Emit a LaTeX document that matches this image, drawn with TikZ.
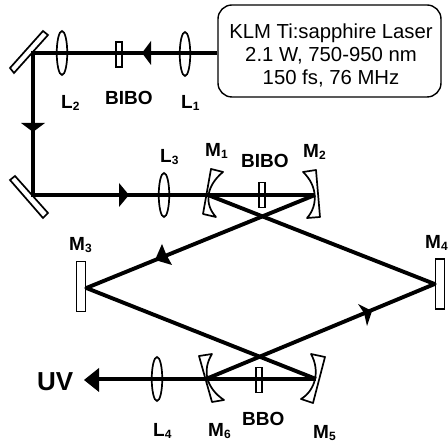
\documentclass[tikz,border=0pt]{standalone}
\usepackage{fontspec}
\setmainfont{Liberation Sans}
\usetikzlibrary{shapes.geometric}
\tikzset{
 x=1pt,y=-1pt,
 beam/.style={line width=4.2pt,black},
 diagbeam/.style={line width=3.9pt,black},
 outbeam/.style={line width=3.5pt,black},
 optic/.style={draw=black,line width=1.7pt},
 lensnode/.style={optic,ellipse,inner sep=0pt,minimum width=10.5pt,minimum height=44pt},
 crystal/.style={optic,rectangle,inner sep=0pt,minimum width=5.5pt,minimum height=25pt},
 flat/.style={optic,fill=white,rectangle,inner sep=0pt,minimum width=9pt,minimum height=50pt},
 curved/.style={optic,fill=white,line join=round},
 head/.style={fill=black,draw=none},
 lbl/.style={font=\bfseries\fontsize{19}{19}\selectfont,inner sep=0pt,anchor=base west,text=black},
}
\newcommand{\labsub}[2]{#1\raisebox{-2pt}{\fontsize{12}{12}\selectfont #2}}
\begin{document}
\begin{tikzpicture}
\useasboundingbox (0,0) rectangle (448,443);
\fill[white] (0,0) rectangle (448,443);
% laser
\node[draw=black,line width=1.4pt,rounded corners=14pt,minimum width=223pt,minimum height=92pt,inner sep=0pt] (laser) at (329.5,51) {};
\node[inner sep=0pt,align=center,font=\fontsize{20.3}{23}\selectfont] (lasertext) at (331,55) {KLM Ti:sapphire Laser\\2.1 W, 750-950 nm\\150 fs, 76 MHz};
% folding mirrors
\draw[optic,fill=white] (10,68) -- (43,31) -- (48,35) -- (14,73) -- cycle;
\draw[optic,fill=white] (10,180) -- (15,176) -- (48,213) -- (43,218) -- cycle;
% curved mirrors
\draw[curved] (211,169) -- (223,172) .. controls (206,186) and (204,204) .. (216,217) -- (203,214) -- cycle;
\draw[curved] (303,172) -- (316,170) -- (320,217) -- (307,218) .. controls (318,206) and (318,186) .. (303,172) -- cycle;
\draw[curved] (199,356) -- (212,354) .. controls (202,370) and (206,388) .. (224,400) -- (212,402) -- cycle;
\draw[curved] (311,354) -- (325,357) -- (313,403) -- (301,399) .. controls (316,390) and (320,370) .. (311,354) -- cycle;
% flat cavity mirrors
\node[flat] (M3) at (81,286.5) {};
\node[flat] (M4) at (440,284) {};
% path points
\coordinate (fa) at (33,53);
\coordinate (fb) at (33,195);
\coordinate (ma) at (208,195);
\coordinate (mb) at (315,195);
\coordinate (mc) at (M3.east |- 0,288);
\coordinate (md) at (M4.west);
\coordinate (me) at (316,379);
\coordinate (mf) at (206,379);
\coordinate (uvtip) at (99,379);
% beams
\draw[beam,line join=miter] (laser.west |- fa) -- (fa) -- (fb) -- (ma) -- (mb);
\draw[diagbeam,line join=round] (ma) -- (md) -- (mf);
\draw[diagbeam,line join=round] (mb) -- (mc) -- (me);
\draw[outbeam] (me) -- (uvtip);
% lenses and crystals
\node[lensnode] (L1) at (185,54) {};
\node[lensnode] (L2) at (62,53) {};
\node[lensnode] (L3) at (164,195) {};
\node[lensnode] (L4) at (157,379) {};
\node[crystal] (X1) at (119,54.5) {};
\node[crystal] (X2) at (262,195) {};
\node[crystal] (X3) at (259,380) {};
% arrowheads
\fill[head] (142,53) -- (151,41) -- (151,65) -- cycle;
\fill[head] (33,132) -- (21,123) -- (45,123) -- cycle;
\fill[head] (129,195) -- (119,183) -- (119,207) -- cycle;
\fill[head] (155,260) -- (162,244) -- (166,254) -- (172,265) -- cycle;
\fill[head] (372,311) -- (358,304) -- (364,313) -- (367,326) -- cycle;
\fill[head] (84,380) -- (99,368) -- (99,392) -- cycle;
% labels
\node[lbl] (tL1) at (181,109) {\labsub{L}{1}};
\node[lbl] (tL2) at (61,109) {\labsub{L}{2}};
\node[lbl] (tL3) at (160,163) {\labsub{L}{3}};
\node[lbl] (tL4) at (153,437) {\labsub{L}{4}};
\node[lbl] (tM1) at (205,157) {\labsub{M}{1}};
\node[lbl] (tM2) at (303,158) {\labsub{M}{2}};
\node[lbl] (tM3) at (69,251) {\labsub{M}{3}};
\node[lbl] (tM4) at (425,249) {\labsub{M}{4}};
\node[lbl] (tM5) at (313,439) {\labsub{M}{5}};
\node[lbl] (tM6) at (208,437) {\labsub{M}{6}};
\node[lbl] (tB1) at (105,105) {BIBO};
\node[lbl] (tB2) at (241,168) {BIBO};
\node[lbl] (tB3) at (242,426) {BBO};
\node[lbl,font=\bfseries\fontsize{26}{26}\selectfont] (tUV) at (37,391) {UV};
\end{tikzpicture}
\end{document}
